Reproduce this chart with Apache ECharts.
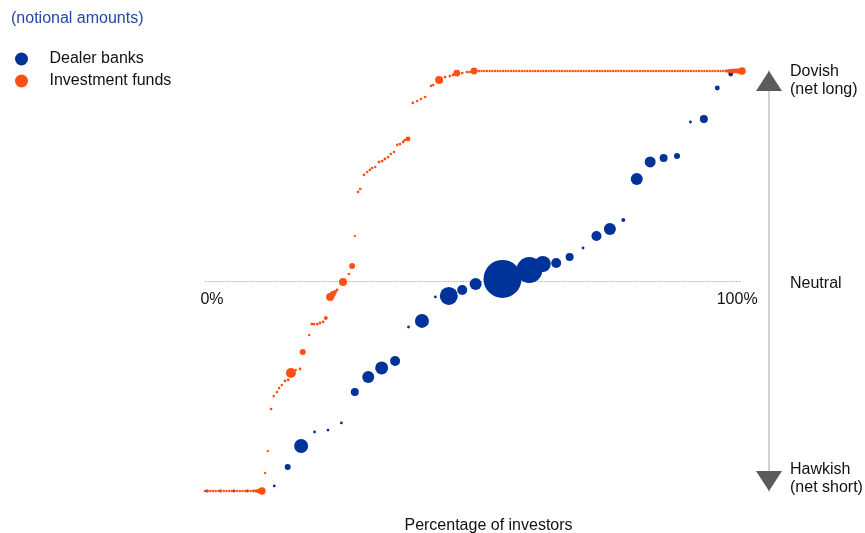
<!DOCTYPE html>
<html>
<head>
<meta charset="utf-8">
<script src="https://cdn.jsdelivr.net/npm/echarts@6/dist/echarts.min.js"></script>
<style>
  html, body { margin: 0; padding: 0; background: #fff; }
  #chart { width: 865px; height: 533px; }
</style>
</head>
<body>
<div id="chart"></div>
<script>
// Series names
const seriesNames = ['Dealer banks', 'Investment funds'];

// Dealer banks: [percentage of investors, net stance (-100 hawkish .. 100 dovish), notional amount]
const dealerPoints = [
  [0.4, -100, 2], [2.9, -100, 2], [5.4, -100, 2], [7.9, -100, 2], [10.4, -100, 2],
  [12.9, -97.6, 2], [15.4, -88.6, 9], [17.9, -78.6, 49], [20.4, -71.9, 2], [22.9, -71.0, 2],
  [25.4, -67.6, 2], [27.9, -52.9, 16], [30.4, -45.7, 36], [32.9, -41.4, 42], [35.4, -38.1, 25],
  [37.9, -21.9, 2], [40.4, -19.0, 49], [42.9, -7.6, 2], [45.4, -7.1, 81], [47.9, -4.3, 25],
  [50.4, -1.4, 36], [52.9, -0.5, 16], [55.4, 1.0, 361], [57.9, 2.4, 25], [60.4, 5.2, 169],
  [62.9, 8.1, 64], [65.4, 8.6, 25], [67.9, 11.4, 16], [70.4, 15.7, 2], [72.9, 21.4, 25],
  [75.4, 24.8, 36], [77.9, 29.0, 4], [80.4, 48.6, 36], [82.9, 56.7, 30], [85.4, 58.6, 16],
  [87.9, 59.5, 9], [90.4, 75.7, 2], [92.9, 77.1, 16], [95.4, 91.9, 6], [97.9, 98.6, 6]
];

// Investment funds: [percentage of investors, net stance, notional amount]
const fundPoints = [
  // fully net short
  [0, -100, 1.5], [0.5, -100, 1.5], [1, -100, 1.5], [1.5, -100, 1.5], [2, -100, 1.5],
  [2.5, -100, 1.5], [3, -100, 1.5], [3.5, -100, 1.5], [4, -100, 1.5], [4.5, -100, 1.5],
  [5, -100, 1.5], [5.5, -100, 1.5], [6, -100, 1.5], [6.5, -100, 1.5], [7, -100, 1.5],
  [7.5, -100, 1.5], [8, -100, 1.5], [8.5, -100, 1.5], [9, -100, 2], [9.5, -100, 3],
  [10, -100, 5], [10.6, -100, 14],
  // mixed positions
  [11.2, -91.4, 1.4], [11.7, -81.0, 1.4], [12.3, -61.0, 2], [12.8, -54.8, 1.7], [13.4, -52.9, 1.7],
  [13.8, -51.0, 1.7], [14.3, -49.5, 1.7], [14.9, -47.6, 2], [15.5, -47.1, 2], [16.0, -43.8, 25],
  [16.9, -42.4, 1.4], [17.7, -41.9, 2], [18.2, -33.8, 9], [19.4, -25.7, 1.4], [19.9, -20.5, 2],
  [20.3, -20.5, 2], [20.9, -20.5, 2], [21.4, -20.0, 2], [22.0, -19.5, 2], [22.5, -17.6, 4],
  [23.3, -7.6, 16], [23.8, -6.2, 9], [24.2, -5.2, 4], [24.6, -4.3, 2], [25.7, -0.5, 16],
  [26.8, 3.3, 1.7], [27.4, 7.1, 9], [27.9, 21.4, 1.4], [28.5, 42.4, 2], [28.9, 43.8, 1.7],
  [29.6, 50.5, 2], [30.2, 51.9, 1.7], [30.7, 52.9, 1.7], [31.1, 53.8, 1.7], [31.7, 54.3, 1.7],
  [32.4, 56.7, 2], [33.0, 57.1, 2], [33.5, 58.1, 2], [34.1, 59.0, 2], [34.6, 60.5, 1.7],
  [35.2, 61.4, 1.7], [35.8, 64.8, 1.7], [36.3, 65.2, 1.7], [36.9, 66.2, 2], [37.2, 67.1, 2],
  [37.8, 67.6, 6], [38.7, 84.8, 1.7], [39.5, 85.7, 1.7], [40.2, 86.7, 1.7], [41.0, 87.6, 1.7],
  [42.1, 92.9, 1.7], [42.5, 93.3, 1.7], [43.6, 95.7, 16], [44.7, 97.1, 2], [45.6, 97.6, 2],
  [46.2, 98.1, 2], [46.9, 99.0, 12], [47.9, 99.0, 2], [48.8, 99.5, 2], [49.3, 99.5, 2],
  [50.1, 100, 12],
  // fully net long
  [50.5, 100, 1.5], [51, 100, 1.5], [51.5, 100, 1.5], [52, 100, 1.5], [52.5, 100, 1.5],
  [53, 100, 1.5], [53.5, 100, 1.5], [54, 100, 1.5], [54.5, 100, 1.5], [55, 100, 1.5],
  [55.5, 100, 1.5], [56, 100, 1.5], [56.5, 100, 1.5], [57, 100, 1.5], [57.5, 100, 1.5],
  [58, 100, 1.5], [58.5, 100, 1.5], [59, 100, 1.5], [59.5, 100, 1.5], [60, 100, 1.5],
  [60.5, 100, 1.5], [61, 100, 1.5], [61.5, 100, 1.5], [62, 100, 1.5], [62.5, 100, 1.5],
  [63, 100, 1.5], [63.5, 100, 1.5], [64, 100, 1.5], [64.5, 100, 1.5], [65, 100, 1.5],
  [65.5, 100, 1.5], [66, 100, 1.5], [66.5, 100, 1.5], [67, 100, 1.5], [67.5, 100, 1.5],
  [68, 100, 1.5], [68.5, 100, 1.5], [69, 100, 1.5], [69.5, 100, 1.5], [70, 100, 1.5],
  [70.5, 100, 1.5], [71, 100, 1.5], [71.5, 100, 1.5], [72, 100, 1.5], [72.5, 100, 1.5],
  [73, 100, 1.5], [73.5, 100, 1.5], [74, 100, 1.5], [74.5, 100, 1.5], [75, 100, 1.5],
  [75.5, 100, 1.5], [76, 100, 1.5], [76.5, 100, 1.5], [77, 100, 1.5], [77.5, 100, 1.5],
  [78, 100, 1.5], [78.5, 100, 1.5], [79, 100, 1.5], [79.5, 100, 1.5], [80, 100, 1.5],
  [80.5, 100, 1.5], [81, 100, 1.5], [81.5, 100, 1.5], [82, 100, 1.5], [82.5, 100, 1.5],
  [83, 100, 1.5], [83.5, 100, 1.5], [84, 100, 1.5], [84.5, 100, 1.5], [85, 100, 1.5],
  [85.5, 100, 1.5], [86, 100, 1.5], [86.5, 100, 1.5], [87, 100, 1.5], [87.5, 100, 1.5],
  [88, 100, 1.5], [88.5, 100, 1.5], [89, 100, 1.5], [89.5, 100, 1.5], [90, 100, 1.5],
  [90.5, 100, 1.5], [91, 100, 1.5], [91.5, 100, 1.5], [92, 100, 1.5], [92.5, 100, 1.5],
  [93, 100, 1.5], [93.5, 100, 1.5], [94, 100, 1.5], [94.5, 100, 1.5], [95, 100, 1.5],
  [95.5, 100, 1.5], [96, 100, 1.5], [96.5, 100, 1.5], [97, 100, 2], [97.5, 100, 4],
  [98, 100, 5], [98.5, 100, 6], [99, 100, 6], [99.5, 100, 8], [100, 100, 14]
];

// Axis texts
const xTickLabels = ['0%', '100%'];
const stanceLabels = ['Dovish\n(net long)', 'Neutral', 'Hawkish\n(net short)'];

const font = '"Liberation Sans", Arial, sans-serif';
const bubbleSize = d => 2 * Math.sqrt(d[2]);

const chart = echarts.init(document.getElementById('chart'));

const option = {
    animation: false,
    textStyle: { fontFamily: font },
    title: {
        text: '(notional amounts)',
        left: 11, top: 11, padding: 0,
        textStyle: { color: '#2148a3', fontSize: 16, fontWeight: 'normal', fontFamily: font }
    },
    legend: {
        data: seriesNames,
        orient: 'vertical',
        left: 15, top: 51, padding: 0,
        icon: 'circle',
        itemWidth: 42, itemHeight: 13, itemGap: 6,
        textStyle: { fontSize: 16, color: '#111', padding: [0, 0, 0, 2], fontFamily: font }
    },
    grid: { left: 205, right: 123, top: 71, bottom: 42, outerBoundsMode: 'none' },
    xAxis: {
        type: 'value', min: 0, max: 100, interval: 100,
        position: 'bottom', offset: -210,
        splitLine: { show: false },
        axisTick: { show: false },
        axisLine: { show: true, onZero: false, lineStyle: { color: '#b5b5b5', width: 1, type: [1, 2] } },
        axisLabel: {
            customValues: [1.3, 99.1],
            formatter: v => (v < 50 ? xTickLabels[0] : xTickLabels[1]),
            margin: 11, fontSize: 16, color: '#111'
        },
        name: 'Percentage of investors',
        nameLocation: 'middle',
        nameGap: 237,
        nameTextStyle: { fontSize: 16, color: '#111', padding: [0, 0, 0, 30] }
    },
    yAxis: [{
        type: 'value', min: -100, max: 100,
        position: 'right', offset: 27,
        splitLine: { show: false },
        axisTick: { show: false },
        axisLine: { show: true, onZero: false, lineStyle: { color: '#d2d2d2', width: 2 } },
        axisLabel: {
            customValues: [95.3, -1.4, -94.3],
            formatter: v => (v > 50 ? stanceLabels[0] : v < -50 ? stanceLabels[2] : stanceLabels[1]),
            margin: 21, fontSize: 16, lineHeight: 18, color: '#111', align: 'left'
        }
    }, {
        type: 'value', min: -100, max: 100,
        position: 'right', offset: 27,
        splitLine: { show: false },
        axisTick: { show: false },
        axisLabel: { show: false },
        axisLine: {
            show: true, onZero: false,
            symbol: ['triangle', 'triangle'],
            symbolSize: [26, 20],
            symbolOffset: [10, -10],
            lineStyle: { color: '#5b5b5b', width: 0 }
        }
    }],
    series: [{
        name: seriesNames[0],
        type: 'scatter',
        data: dealerPoints,
        symbolSize: bubbleSize,
        itemStyle: { color: '#003399', opacity: 1 },
        clip: false,
        z: 2
    }, {
        name: seriesNames[1],
        type: 'scatter',
        data: fundPoints,
        symbolSize: bubbleSize,
        itemStyle: { color: '#ff5014', opacity: 1 },
        clip: false,
        z: 3
    }]
};

chart.setOption(option);
</script>
</body>
</html>
